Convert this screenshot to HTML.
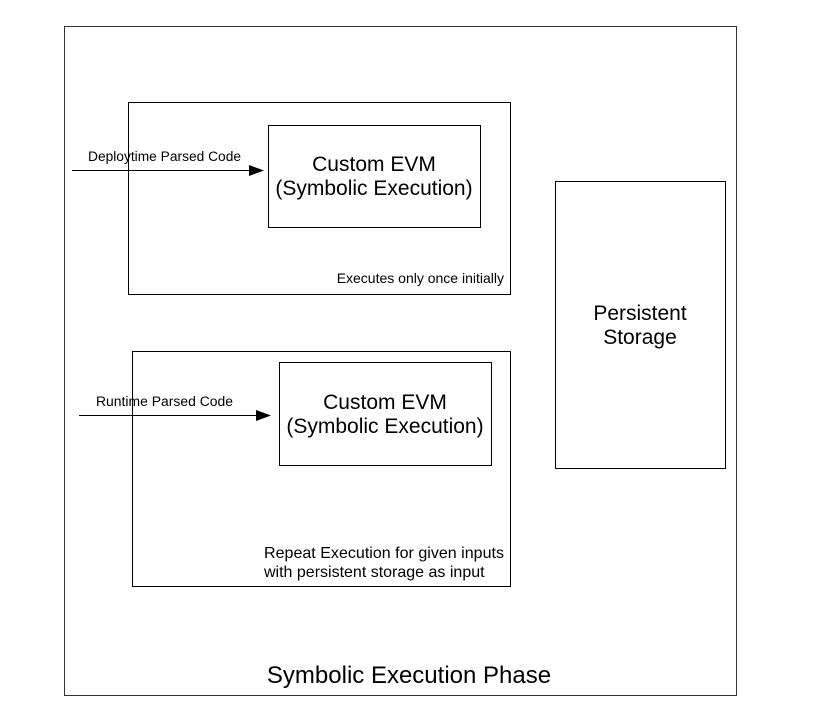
<!DOCTYPE html>
<html><head><meta charset="utf-8"><style>
html,body{margin:0;padding:0;background:#fff;}
svg{display:block;}
text{font-family:"Liberation Sans",sans-serif;fill:#000;}
</style></head><body>
<svg width="817" height="713" viewBox="0 0 817 713" xmlns="http://www.w3.org/2000/svg">
<g fill="none" stroke="#000" stroke-width="1">
<rect x="64.5" y="26.5" width="672" height="669" stroke="#333"/>
<rect x="128.5" y="102.5" width="382" height="192"/>
<rect x="268.5" y="125.5" width="212" height="102"/>
<rect x="132.5" y="351.5" width="378" height="235"/>
<rect x="279.5" y="362.5" width="212" height="103"/>
<rect x="555.5" y="181.5" width="170" height="287"/>
<line x1="72" y1="170.5" x2="250" y2="170.5"/>
<line x1="79" y1="415.5" x2="258" y2="415.5"/>
</g>
<polygon points="249,165 264,170.5 249,176" fill="#000"/>
<polygon points="256,410 271,415.5 256,421" fill="#000"/>
<text x="88" y="161" font-size="13.5" textLength="153" lengthAdjust="spacingAndGlyphs">Deploytime Parsed Code</text>
<text x="96" y="406" font-size="13.5" textLength="137" lengthAdjust="spacingAndGlyphs">Runtime Parsed Code</text>
<text x="374" y="171" font-size="21" text-anchor="middle">Custom EVM</text>
<text x="374" y="195" font-size="21" text-anchor="middle">(Symbolic Execution)</text>
<text x="385" y="409" font-size="21" text-anchor="middle">Custom EVM</text>
<text x="385" y="433" font-size="21" text-anchor="middle">(Symbolic Execution)</text>
<text x="504" y="283" font-size="14" text-anchor="end">Executes only once initially</text>
<text x="264" y="558" font-size="16" textLength="240" lengthAdjust="spacingAndGlyphs">Repeat Execution for given inputs</text>
<text x="264" y="577" font-size="16">with persistent storage as input</text>
<text x="640" y="320" font-size="21" text-anchor="middle">Persistent</text>
<text x="640" y="344" font-size="21" text-anchor="middle">Storage</text>
<text x="409" y="683" font-size="24" text-anchor="middle">Symbolic Execution Phase</text>
</svg>
</body></html>
